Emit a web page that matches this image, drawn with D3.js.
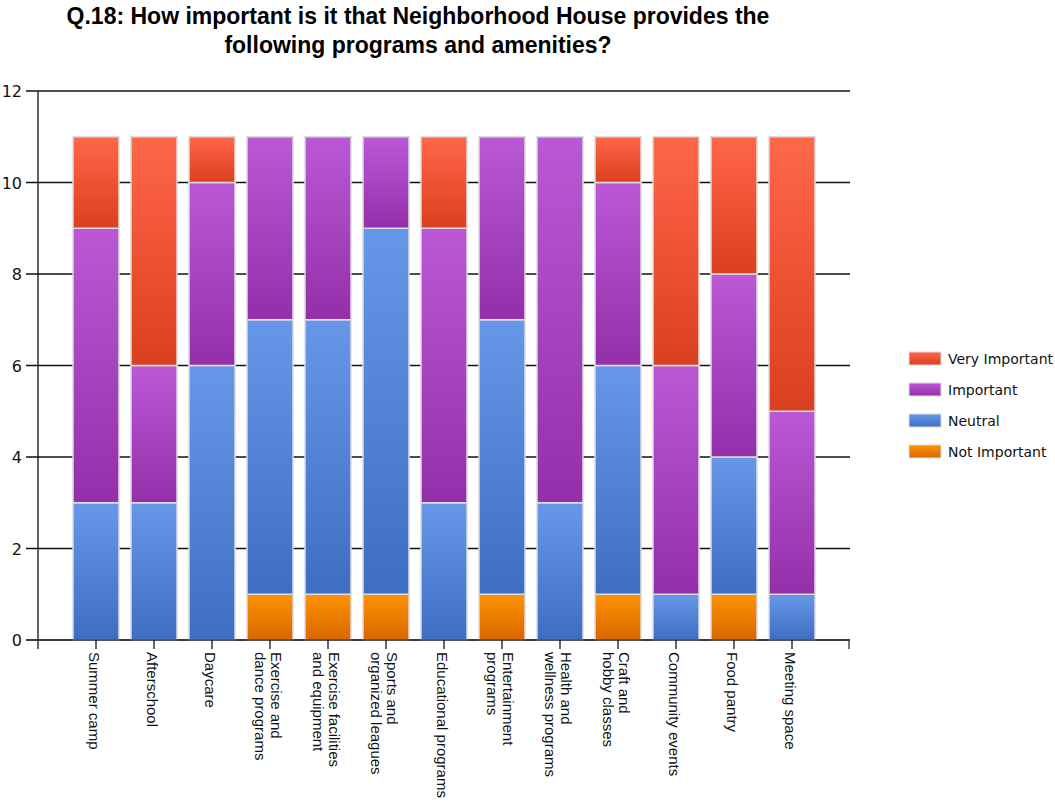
<!DOCTYPE html>
<html>
<head>
<meta charset="utf-8">
<script src="https://cdn.jsdelivr.net/npm/d3@7"></script>
<style>
  html, body { margin: 0; padding: 0; background: #fff; }
  svg { display: block; }
  .title { font-family: "Liberation Sans", Arial, sans-serif; font-weight: bold; font-size: 23px; fill: #000; }
  .ytick { font-family: "DejaVu Sans", Verdana, sans-serif; font-size: 16px; fill: #111; }
  .xlab { font-family: "Liberation Sans", Arial, sans-serif; font-size: 15px; fill: #111; }
  .leg { font-family: "DejaVu Sans", Verdana, sans-serif; font-size: 14px; fill: #111; }
</style>
</head>
<body>
<svg id="chart" width="1055" height="802"></svg>
<script>
// ---- data ----
const categories = [
  ["Summer camp"], ["Afterschool"], ["Daycare"],
  ["Exercise and", "dance programs"], ["Exercise facilities", "and equipment"],
  ["Sports and", "organized leagues"], ["Educational programs"],
  ["Entertainment", "programs"], ["Health and", "wellness programs"],
  ["Craft and", "hobby classes"], ["Community events"], ["Food pantry"], ["Meeting space"],
];
const notImportant  = [0, 0, 0, 1, 1, 1, 0, 1, 0, 1, 0, 1, 0];
const neutral       = [3, 3, 6, 6, 6, 8, 3, 6, 3, 5, 1, 3, 1];
const important     = [6, 3, 4, 4, 4, 2, 6, 4, 8, 4, 5, 4, 4];
const veryImportant = [2, 5, 1, 0, 0, 0, 2, 0, 0, 1, 5, 3, 6];
const yTicks = [0, 2, 4, 6, 8, 10, 12];

// series bottom -> top; legend lists top -> bottom
const series = [
  { key: "Not Important",  values: notImportant,  c0: "#ff9200", c1: "#d96700" },
  { key: "Neutral",        values: neutral,       c0: "#6797e8", c1: "#3e6ec3" },
  { key: "Important",      values: important,     c0: "#bb58d6", c1: "#932fa8" },
  { key: "Very Important", values: veryImportant, c0: "#ff6749", c1: "#d8401f" },
];

const svg = d3.select("#chart");
const plotL = 38, plotR = 850, plotT = 91, plotB = 640;

// ---- title ----
svg.append("text").attr("class", "title").attr("x", 418).attr("y", 24)
  .attr("text-anchor", "middle").text("Q.18: How important is it that Neighborhood House provides the");
svg.append("text").attr("class", "title").attr("x", 418).attr("y", 53)
  .attr("text-anchor", "middle").text("following programs and amenities?");

// ---- gradients ----
const defs = svg.append("defs");
series.forEach((s, i) => {
  const g = defs.append("linearGradient").attr("id", "g" + i)
    .attr("x1", 0).attr("y1", 0).attr("x2", 0).attr("y2", 1);
  g.append("stop").attr("offset", "0%").attr("stop-color", s.c0);
  g.append("stop").attr("offset", "100%").attr("stop-color", s.c1);
});

// ---- scales ----
const idx = d3.range(categories.length);
const x = d3.scalePoint().domain(idx).range([plotL, plotR]).padding(1);
const y = d3.scaleLinear().domain([0, 12]).range([plotB, plotT]);
const barW = 46;

// ---- grid + y ticks ----
svg.append("g").selectAll("line").data(yTicks).join("line")
  .attr("x1", 26).attr("x2", plotR).attr("y1", (d) => y(d)).attr("y2", (d) => y(d))
  .attr("stroke", "#111").attr("stroke-width", 1.3);
svg.append("g").selectAll("text").data(yTicks).join("text")
  .attr("class", "ytick").attr("x", 22).attr("y", (d) => y(d) + 6)
  .attr("text-anchor", "end").text((d) => d);

// ---- stacked bars ----
const rows = idx.map((i) => {
  const o = { i };
  series.forEach((s) => (o[s.key] = s.values[i]));
  return o;
});
const stack = d3.stack().keys(series.map((s) => s.key))(rows);

stack.forEach((layer, si) => {
  svg.append("g").selectAll("rect").data(layer.filter((d) => d[1] > d[0])).join("rect")
    .attr("x", (d) => x(d.data.i) - barW / 2)
    .attr("y", (d) => y(d[1]))
    .attr("width", barW)
    .attr("height", (d) => y(d[0]) - y(d[1]))
    .attr("fill", `url(#g${si})`)
    .attr("stroke", "#dcdcdc").attr("stroke-width", 1.5);
});

// ---- axes lines ----
svg.append("line").attr("x1", plotL).attr("x2", plotL).attr("y1", plotT).attr("y2", plotB + 9)
  .attr("stroke", "#111").attr("stroke-width", 1.3);
svg.append("line").attr("x1", 26).attr("x2", plotR).attr("y1", plotB).attr("y2", plotB)
  .attr("stroke", "#333").attr("stroke-width", 1.5);
svg.append("g").selectAll("line").data(idx).join("line")
  .attr("x1", (d) => x(d)).attr("x2", (d) => x(d)).attr("y1", plotB).attr("y2", plotB + 9)
  .attr("stroke", "#111").attr("stroke-width", 1.3);
svg.append("line").attr("x1", plotR - 1).attr("x2", plotR - 1).attr("y1", plotB).attr("y2", plotB + 9)
  .attr("stroke", "#333").attr("stroke-width", 1.3);

// ---- x labels, rotated, lines stack leftwards ----
const lh = 16;
const xl = svg.append("g").selectAll("g").data(idx).join("g")
  .attr("transform", (d) => {
    const n = categories[d].length;
    return `translate(${x(d) - 7 + (n - 1) * lh / 2},${plotB + 12}) rotate(90)`;
  });
xl.each(function (d) {
  const t = d3.select(this).append("text").attr("class", "xlab");
  categories[d].forEach((line, k) => {
    t.append("tspan").attr("x", 0).attr("y", k * lh).text(line);
  });
});

// ---- legend ----
const legend = svg.append("g").attr("transform", "translate(909,352)");
series.slice().reverse().forEach((s, k) => {
  const si = series.indexOf(s);
  const g = legend.append("g").attr("transform", `translate(0,${k * 31})`);
  g.append("rect").attr("width", 32).attr("height", 13)
    .attr("fill", `url(#g${si})`).attr("stroke", "#dcdcdc").attr("stroke-width", 1);
  g.append("text").attr("class", "leg").attr("x", 39).attr("y", 12).text(s.key);
});
</script>
</body>
</html>
